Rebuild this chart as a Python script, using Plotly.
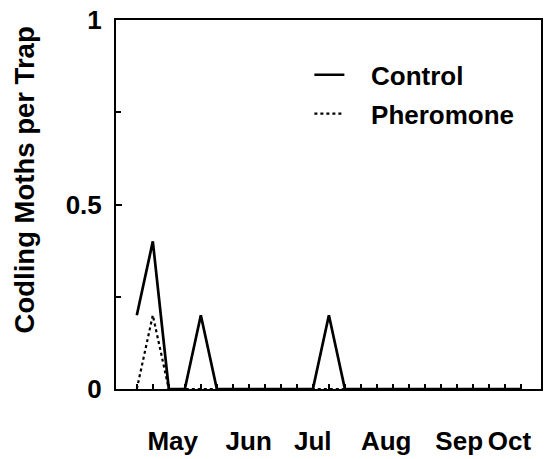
import plotly.graph_objects as go

# weekly sample index (trap checks)
weeks = list(range(25))
control = [0.2, 0.4, 0, 0, 0.2, 0, 0, 0, 0, 0, 0, 0, 0.2, 0, 0, 0, 0, 0, 0, 0, 0, 0, 0, 0, 0]
pheromone = [0, 0.2, 0, 0, 0, 0, 0, 0, 0, 0, 0, 0, 0, 0, 0, 0, 0, 0, 0, 0, 0, 0, 0, 0, 0]
month_labels = ["May", "Jun", "Jul", "Aug", "Sep", "Oct"]
month_pos = [2.24, 6.99, 10.99, 15.58, 20.14, 23.28]
y_title = "Codling Moths per Trap"

FONT = dict(family="Liberation Sans, Arial, sans-serif", size=26, color="black", weight="bold")
NB = "\u00a0\u00a0\u00a0"

fig = go.Figure()
fig.add_trace(go.Scatter(x=weeks, y=control, mode="lines", name=NB + "Control",
                         line=dict(color="black", width=2.7), legendgroup="a"))
fig.add_trace(go.Scatter(x=weeks, y=pheromone, mode="lines", name=NB + "Pheromone",
                         line=dict(color="black", width=2.2, dash="dot"), legendgroup="b"))

fig.update_layout(
    width=546, height=459,
    margin=dict(l=116, r=3, t=20, b=67),
    paper_bgcolor="white", plot_bgcolor="white",
    font=FONT,
    showlegend=True,
    legend=dict(x=0.455, y=0.915, xanchor="left", yanchor="top",
                bgcolor="rgba(0,0,0,0)", font=FONT,
                traceorder="grouped", tracegroupgap=2),
    xaxis=dict(range=[-1.3, 25.25], showgrid=False, zeroline=False,
               showline=True, linecolor="black", linewidth=2, mirror=True,
               tickmode="array", tickvals=month_pos, ticktext=month_labels,
               ticks="", ticklabelstandoff=28,
               minor=dict(tickmode="array", tickvals=weeks, ticks="inside",
                          ticklen=5, tickwidth=1.5, tickcolor="black", showgrid=False)),
    yaxis=dict(range=[0, 1], showgrid=False, zeroline=False,
               showline=True, linecolor="black", linewidth=2, mirror=True,
               tickmode="array", tickvals=[0, 0.5, 1], ticktext=["0", "0.5", "1"],
               ticks="inside", ticklen=6, tickwidth=1.5, tickcolor="black",
               ticklabelstandoff=7,
               minor=dict(tickmode="array", tickvals=[0.25, 0.75], ticks="inside",
                          ticklen=5, tickwidth=1.5, tickcolor="black", showgrid=False)),
    annotations=[dict(text=y_title, textangle=-90, xref="paper", yref="paper",
                      x=-0.215, y=0.567, xanchor="center", yanchor="middle",
                      showarrow=False, font=dict(FONT, size=27.5))],
)

fig.write_html("out.html")
